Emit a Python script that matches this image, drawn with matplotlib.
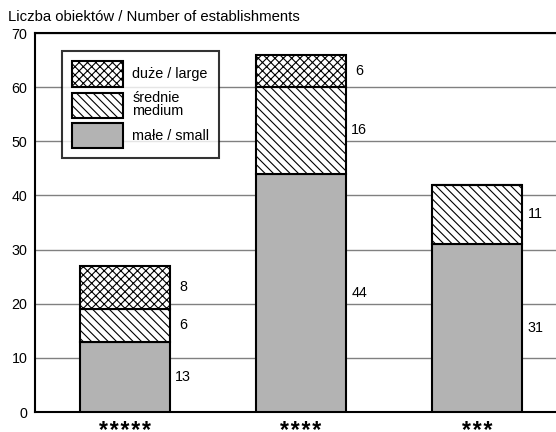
import numpy as np
import matplotlib.pyplot as plt
from matplotlib.patches import Patch

plt.rcParams['font.family'] = ['Liberation Sans', 'DejaVu Sans']
plt.rcParams['hatch.linewidth'] = 0.8

# data
categories = ['*****', '****', '***']
small = [13, 44, 31]
medium = [6, 16, 11]
large = [8, 6, 0]

fig = plt.figure(figsize=(5.56, 4.32), dpi=100)
ax = fig.add_axes([35 / 556, 1 - 412 / 432, 521 / 556, 379 / 432])

x = np.arange(len(categories))
w = 0.51
small_arr = np.array(small)
med_arr = np.array(medium)
large_arr = np.array(large)

ax.bar(x, small_arr, w, color='#b3b3b3', edgecolor='black', linewidth=1.5, zorder=3)
ax.bar(x, med_arr, w, bottom=small_arr, color='white', edgecolor='black',
       hatch='\\\\\\\\', linewidth=1.5, zorder=3)
ax.bar(x, large_arr, w, bottom=small_arr + med_arr, color='white', edgecolor='black',
       hatch='xxxx', linewidth=1.5, zorder=3)

# value labels next to each segment
for i in range(len(categories)):
    bottoms = [0, small[i], small[i] + medium[i]]
    for val, b in zip([small[i], medium[i], large[i]], bottoms):
        if val > 0:
            ax.text(x[i] + w / 2 + 0.077, b + val / 2, str(val), ha='center',
                    va='center', fontsize=10.3)

ax.set_xlim(-0.511, 2.45)
ax.set_ylim(0, 70)
ax.set_yticks(range(0, 71, 10))
ax.set_xticks(x)
# stars spaced out with hair spaces
ax.set_xticklabels(['\u200a'.join(c) for c in categories], fontsize=16.5,
                   fontweight='bold')
ax.tick_params(axis='y', length=0, labelsize=10.3, pad=5.5)
ax.tick_params(axis='x', length=0, pad=6)
ax.yaxis.grid(True, color='#808080', linewidth=1, zorder=0)
ax.spines['right'].set_visible(False)
for s in ['left', 'top', 'bottom']:
    ax.spines[s].set_linewidth(1.5)

fig.text(8 / 556, 1 - 17 / 432, 'Liczba obiektów / Number of establishments',
         fontsize=10.7, va='center', ha='left')

handles = [Patch(facecolor='white', edgecolor='black', hatch='xxxx', linewidth=1.5),
           Patch(facecolor='white', edgecolor='black', hatch='\\\\\\\\', linewidth=1.5),
           Patch(facecolor='#b3b3b3', edgecolor='black', linewidth=1.5)]
leg = ax.legend(handles, ['duże / large', 'średnie\nmedium', 'małe / small'],
                loc='upper left', bbox_to_anchor=(27 / 521, 1 - 18 / 379),
                fontsize=10.4, frameon=True, fancybox=False, edgecolor='black',
                handlelength=3.5, handleheight=2.35, borderpad=0.7,
                labelspacing=0.3, handletextpad=0.65, borderaxespad=0)
for t in leg.get_texts():
    t.set_linespacing(0.9)
leg.get_frame().set_linewidth(1.5)
leg.set_zorder(5)

fig.savefig('out.png', dpi=100)
